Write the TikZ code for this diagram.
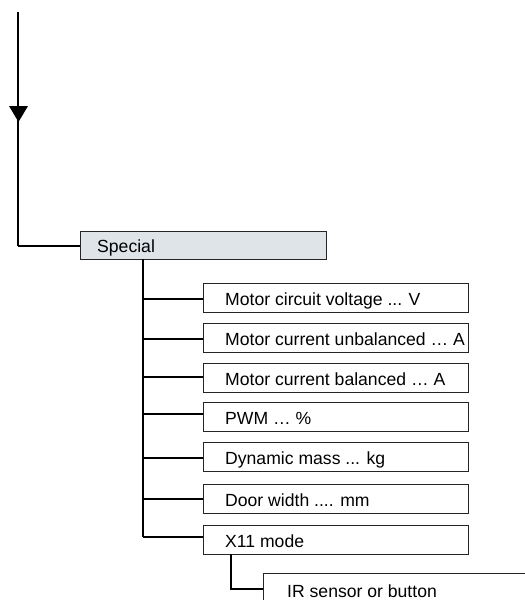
\documentclass[tikz,border=0pt]{standalone}
\usepackage{fontspec}
\setmainfont{Liberation Sans}
\definecolor{boxfill}{HTML}{DFE4E8}
\begin{document}
\begin{tikzpicture}[x=1pt,y=-1pt,
  wire/.style={line width=1.4pt,black},
  itembox/.style={draw=black!85,line width=0.9pt,anchor=north west,inner sep=0pt,
    minimum width=265pt,minimum height=29pt},
  lbl/.style={anchor=base west,inner sep=0pt,font=\fontsize{17.6}{21}\selectfont}]
\useasboundingbox (0,0) rectangle (525,600);
\clip (0,0) rectangle (525,600);
% main line with arrow
\coordinate (top) at (18,12);
\coordinate (corner) at (18,246);
\draw[wire] (top) -- (corner);
\fill (9,106) -- (28,106) -- (18.5,122) -- cycle;
% Special
\node[itembox,fill=boxfill,minimum width=246pt,minimum height=28pt] (spbox) at (80,231) {};
\node[lbl] (special) at (97,252) {Special};
\draw[wire] (corner) -- (spbox.west |- corner);
% children
\coordinate (trunkTop) at (143,259);
\coordinate (trunkBot) at (143,537);
\draw[wire] (trunkTop) -- (trunkBot);
\foreach \t/\ly/\txt [count=\i] in {
  283/299/{Motor circuit voltage ... V},
  323/339/{Motor current unbalanced … A},
  363/377/{Motor current balanced … A},
  402/414/{PWM … \%},
  442/458/{Dynamic mass ... kg},
  484/499/{Door width .... mm},
  525/537/{X11 mode}}{
  \node[itembox] (b\i) at (203,\t) {};
  \node[lbl] (c\i) at (225,\t+22) {\txt};
  \coordinate (t\i) at (143,\ly);
  \draw[wire] (t\i) -- (b\i.west |- t\i);
}
% IR sensor
\node[itembox,minimum width=300pt,minimum height=40pt] (irbox) at (263,573) {};
\node[lbl] (ir) at (287,597) {IR sensor or button};
\coordinate (xb) at (231,554);
\coordinate (irW) at (263,589);
\draw[wire] (xb) |- (irW);
\end{tikzpicture}
\end{document}
